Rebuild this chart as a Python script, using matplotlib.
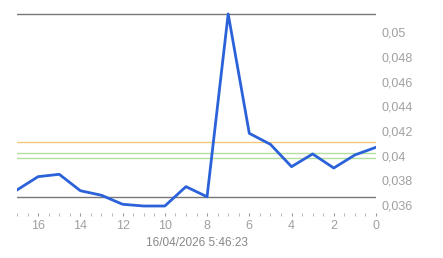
import matplotlib
matplotlib.use("Agg")
import matplotlib.pyplot as plt
from matplotlib.ticker import MultipleLocator, FuncFormatter

# ===== DATA =====
ago = [17, 16, 15, 14, 13, 12, 11, 10, 9, 8, 7, 6, 5, 4, 3, 2, 1, 0]
price = [0.03722, 0.03830, 0.03849, 0.03716, 0.03679, 0.03606, 0.03592, 0.03592,
         0.03749, 0.03667, 0.05149, 0.04181, 0.04092, 0.03911, 0.04014, 0.03900,
         0.04006, 0.04068]
max_val = 0.05149
min_val = 0.03665
orange_level = 0.04108
green_levels = [0.04019, 0.03979]
stamp = "16/04/2026 5:46:23"

plt.rcParams['font.family'] = ['Liberation Sans', 'DejaVu Sans']

fig = plt.figure(figsize=(4.43, 2.58), dpi=100)
# axes: x 17px..376px, y 10px..213px (ticks row)
ax = fig.add_axes([17 / 443, 1 - 213 / 258, (376 - 17) / 443, (213 - 10) / 258])

ax.axhline(max_val, color='#777777', lw=1)
ax.axhline(min_val, color='#777777', lw=1)
ax.axhline(orange_level, color='#f2c77a', lw=1)
for g in green_levels:
    ax.axhline(g, color='#b5dfa0', lw=1)

ax.plot(ago, price, color='#2b62d9', lw=2)

ax.set_xlim(17, 0)
ax.set_ylim(0.035353, 0.051811)

for s in ax.spines.values():
    s.set_visible(False)


def comma_fmt(v, pos):
    return ('%g' % round(v, 4)).replace('.', ',')


ax.xaxis.set_major_locator(MultipleLocator(2))
ax.xaxis.set_minor_locator(MultipleLocator(0.5))
ax.yaxis.set_major_locator(MultipleLocator(0.002))
ax.yaxis.tick_right()
ax.yaxis.set_major_formatter(FuncFormatter(comma_fmt))
ax.tick_params(axis='y', length=0, pad=4, labelsize=9, labelcolor='#a0a0a0')
ax.tick_params(axis='x', which='major', length=2, color='#999999', labelsize=9,
               labelcolor='#a0a0a0', pad=3)
ax.tick_params(axis='x', which='minor', length=2, color='#aaaaaa')

ax.set_xlabel(stamp, fontsize=8.5, color='#888888', labelpad=4)

fig.savefig('out.png', dpi=100)
